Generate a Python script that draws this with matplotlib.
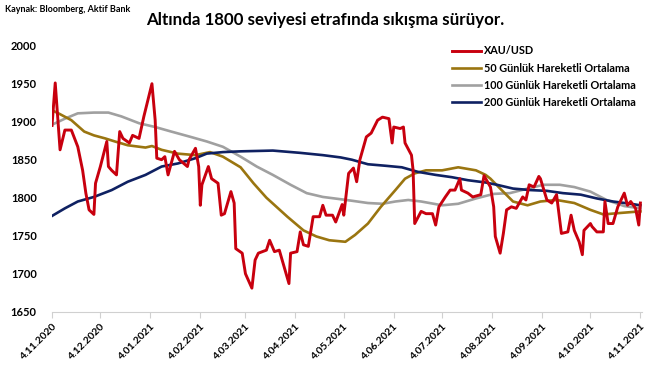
import matplotlib
matplotlib.use("Agg")
import matplotlib.pyplot as plt
import pandas as pd

plt.rcParams['font.family'] = ['Lato', 'DejaVu Sans']
plt.rcParams['font.weight'] = 'bold'

# XAU/USD daily close
xau_dates = [
    "2020-11-04", "2020-11-06", "2020-11-09", "2020-11-12", "2020-11-16", "2020-11-20",
    "2020-11-23", "2020-11-25", "2020-11-27", "2020-11-30", "2020-12-01", "2020-12-04",
    "2020-12-08", "2020-12-09", "2020-12-11", "2020-12-14", "2020-12-16", "2020-12-18",
    "2020-12-22", "2020-12-24", "2020-12-28", "2020-12-31", "2021-01-05", "2021-01-07",
    "2021-01-08", "2021-01-11", "2021-01-13", "2021-01-15", "2021-01-19", "2021-01-22",
    "2021-01-27", "2021-01-28", "2021-02-01", "2021-02-03", "2021-02-04", "2021-02-05",
    "2021-02-09", "2021-02-11", "2021-02-15", "2021-02-17", "2021-02-19", "2021-02-23",
    "2021-02-25", "2021-02-26", "2021-03-02", "2021-03-04", "2021-03-08", "2021-03-10",
    "2021-03-12", "2021-03-17", "2021-03-19", "2021-03-22", "2021-03-25", "2021-03-31",
    "2021-04-01", "2021-04-05", "2021-04-07", "2021-04-09", "2021-04-12", "2021-04-15",
    "2021-04-19", "2021-04-21", "2021-04-23", "2021-04-27", "2021-04-29", "2021-05-03",
    "2021-05-04", "2021-05-07", "2021-05-10", "2021-05-12", "2021-05-14", "2021-05-18",
    "2021-05-21", "2021-05-25", "2021-05-28", "2021-06-01", "2021-06-03", "2021-06-04",
    "2021-06-08", "2021-06-10", "2021-06-11", "2021-06-15", "2021-06-16", "2021-06-17",
    "2021-06-21", "2021-06-24", "2021-06-28", "2021-06-30", "2021-07-02", "2021-07-06",
    "2021-07-09", "2021-07-12", "2021-07-15", "2021-07-16", "2021-07-20", "2021-07-23",
    "2021-07-28", "2021-07-30", "2021-08-03", "2021-08-05", "2021-08-06", "2021-08-09",
    "2021-08-11", "2021-08-13", "2021-08-16", "2021-08-19", "2021-08-23", "2021-08-25",
    "2021-08-27", "2021-08-30", "2021-09-02", "2021-09-03", "2021-09-07", "2021-09-10",
    "2021-09-13", "2021-09-16", "2021-09-20", "2021-09-22", "2021-09-24", "2021-09-27",
    "2021-09-29", "2021-09-30", "2021-10-04", "2021-10-05", "2021-10-08", "2021-10-12",
    "2021-10-13", "2021-10-15", "2021-10-18", "2021-10-21", "2021-10-25", "2021-10-27",
    "2021-10-29", "2021-11-01", "2021-11-03", "2021-11-04",
]
xau_values = [
    1895, 1951, 1863, 1889, 1889, 1867,
    1836, 1806, 1784, 1778, 1819, 1841,
    1874, 1841, 1836, 1830, 1887, 1878,
    1872, 1882, 1878, 1907, 1950, 1902,
    1852, 1850, 1854, 1830, 1861, 1850,
    1841, 1850, 1865, 1841, 1790, 1817,
    1841, 1825, 1819, 1777, 1779, 1808,
    1793, 1733, 1727, 1700, 1681, 1718,
    1727, 1731, 1744, 1729, 1731, 1687,
    1727, 1729, 1755, 1738, 1736, 1775,
    1775, 1790, 1777, 1777, 1768, 1791,
    1777, 1832, 1839, 1821, 1850, 1880,
    1885, 1902, 1906, 1904, 1872, 1893,
    1891, 1893, 1872, 1856, 1836, 1766,
    1782, 1779, 1779, 1764, 1788, 1801,
    1810, 1810, 1825, 1810, 1806, 1801,
    1804, 1829, 1814, 1788, 1749, 1727,
    1753, 1784, 1788, 1786, 1801, 1797,
    1817, 1814, 1828, 1825, 1797, 1793,
    1804, 1753, 1755, 1777, 1757, 1742,
    1725, 1757, 1766, 1762, 1755, 1755,
    1795, 1766, 1766, 1788, 1806, 1790,
    1795, 1786, 1764, 1793,
]

# 50-day moving average
ma50_dates = [
    "2020-11-04", "2020-11-08", "2020-11-16", "2020-11-24", "2020-11-30", "2020-12-07",
    "2020-12-13", "2020-12-21", "2021-01-01", "2021-01-05", "2021-01-11", "2021-01-21",
    "2021-02-01", "2021-02-10", "2021-02-18", "2021-03-01", "2021-03-09", "2021-03-17",
    "2021-03-30", "2021-04-09", "2021-04-17", "2021-04-25", "2021-05-05", "2021-05-11",
    "2021-05-19", "2021-05-27", "2021-06-05", "2021-06-11", "2021-06-17", "2021-06-24",
    "2021-07-04", "2021-07-14", "2021-07-25", "2021-07-31", "2021-08-03", "2021-08-09",
    "2021-08-17", "2021-08-26", "2021-09-03", "2021-09-13", "2021-09-24", "2021-10-04",
    "2021-10-12", "2021-10-23", "2021-11-04",
]
ma50_values = [
    1915, 1911, 1902, 1887, 1882, 1878,
    1874, 1869, 1866, 1868, 1863, 1858,
    1856, 1860, 1854, 1840, 1819, 1800,
    1775, 1757, 1749, 1744, 1742, 1751,
    1766, 1788, 1810, 1825, 1832, 1836,
    1836, 1840, 1836, 1830, 1825, 1812,
    1795, 1790, 1795, 1797, 1793, 1784,
    1778, 1780, 1782,
]

# 100-day moving average
ma100_dates = [
    "2020-11-04", "2020-11-12", "2020-11-20", "2020-11-30", "2020-12-09", "2020-12-17",
    "2020-12-28", "2021-01-07", "2021-01-17", "2021-01-29", "2021-02-08", "2021-02-18",
    "2021-03-01", "2021-03-11", "2021-03-21", "2021-04-01", "2021-04-11", "2021-04-21",
    "2021-05-02", "2021-05-09", "2021-05-19", "2021-05-28", "2021-06-05", "2021-06-13",
    "2021-06-21", "2021-07-04", "2021-07-14", "2021-07-25", "2021-08-05", "2021-08-15",
    "2021-08-26", "2021-09-05", "2021-09-15", "2021-09-24", "2021-10-04", "2021-10-14",
    "2021-10-25", "2021-11-04",
]
ma100_values = [
    1896, 1904, 1911, 1912, 1912, 1907,
    1898, 1893, 1887, 1880, 1874, 1867,
    1854, 1841, 1830, 1817, 1806, 1801,
    1798, 1796, 1793, 1792, 1795, 1797,
    1795, 1790, 1792, 1799, 1805, 1806,
    1812, 1817, 1817, 1814, 1808, 1797,
    1789, 1786,
]

# 200-day moving average
ma200_dates = [
    "2020-11-04", "2020-11-12", "2020-11-20", "2020-11-30", "2020-12-11", "2020-12-21",
    "2021-01-01", "2021-01-11", "2021-01-21", "2021-02-01", "2021-02-08", "2021-02-18",
    "2021-03-01", "2021-03-21", "2021-04-07", "2021-04-21", "2021-05-02", "2021-05-09",
    "2021-05-19", "2021-05-30", "2021-06-09", "2021-06-19", "2021-06-30", "2021-07-10",
    "2021-07-20", "2021-07-31", "2021-08-07", "2021-08-17", "2021-08-28", "2021-09-07",
    "2021-09-17", "2021-09-28", "2021-10-08", "2021-10-18", "2021-10-29", "2021-11-04",
]
ma200_values = [
    1776, 1786, 1795, 1801, 1810, 1821,
    1830, 1841, 1845, 1852, 1858, 1860,
    1861, 1862, 1859, 1856, 1853, 1850,
    1844, 1842, 1840, 1834, 1830, 1827,
    1823, 1820, 1817, 1812, 1810, 1809,
    1806, 1804, 1799, 1795, 1792, 1790,
]

series_labels = ["XAU/USD", "50 Günlük Hareketli Ortalama",
                 "100 Günlük Hareketli Ortalama", "200 Günlük Hareketli Ortalama"]
tick_dates = ["2020-11-04", "2020-12-04", "2021-01-04", "2021-02-04", "2021-03-04",
              "2021-04-04", "2021-05-04", "2021-06-04", "2021-07-04", "2021-08-04",
              "2021-09-04", "2021-10-04", "2021-11-04"]
tick_labels = ["4.11.2020", "4.12.2020", "4.01.2021", "4.02.2021", "4.03.2021",
               "4.04.2021", "4.05.2021", "4.06.2021", "4.07.2021", "4.08.2021",
               "4.09.2021", "4.10.2021", "4.11.2021"]
y_ticks = [1650, 1700, 1750, 1800, 1850, 1900, 1950, 2000]

fig = plt.figure(figsize=(6.68, 3.66), dpi=100)
ax = fig.add_axes([52 / 668, 1 - 311.7 / 366, 590 / 668, (311.7 - 45.7) / 366])

# moving averages first, price on top
ax.plot(pd.to_datetime(ma100_dates), ma100_values, color="#a0a0a0", lw=1.9, label=series_labels[2])
ax.plot(pd.to_datetime(ma50_dates), ma50_values, color="#9a7510", lw=1.9, label=series_labels[1])
ax.plot(pd.to_datetime(ma200_dates), ma200_values, color="#0f2162", lw=1.9, label=series_labels[3])
ax.plot(pd.to_datetime(xau_dates), xau_values, color="#c8000e", lw=2.1, label=series_labels[0])

ax.set_ylim(1650, 2000)
ax.set_xlim(pd.Timestamp("2020-11-04"), pd.Timestamp("2021-11-05"))
ax.set_yticks(y_ticks)
ax.set_yticklabels([str(v) for v in y_ticks], fontsize=8, fontweight="bold")
ax.set_xticks(pd.to_datetime(tick_dates))
ax.set_xticklabels(tick_labels, rotation=45, ha="right",
                   rotation_mode="anchor", fontsize=7.5, fontweight="bold")
ax.tick_params(axis="y", length=0, pad=11)
ax.tick_params(axis="x", length=4, color="#d0d0d0", pad=3)

for side in ["top", "right", "left"]:
    ax.spines[side].set_visible(False)
ax.spines["bottom"].set_color("#d0d0d0")

handles, labels = ax.get_legend_handles_labels()
order = [3, 1, 0, 2]
ax.legend([handles[i] for i in order], [labels[i] for i in order],
          loc="upper left", bbox_to_anchor=(448 / 668, 1 - 41 / 366),
          bbox_transform=fig.transFigure, frameon=False,
          prop={"size": 7.8, "weight": "bold"}, handlelength=2.6,
          handletextpad=0.3, labelspacing=0.58, borderaxespad=0)

fig.text(5 / 668, 1 - 9 / 366, "Kaynak: Bloomberg, Aktif Bank", fontsize=6.5,
         fontweight="bold", va="center", ha="left")
fig.text(325 / 668, 1 - 20 / 366, "Altında 1800 seviyesi etrafında sıkışma sürüyor.",
         fontsize=12.2, fontweight="bold", va="center", ha="center")

fig.savefig("out.png", dpi=100)
